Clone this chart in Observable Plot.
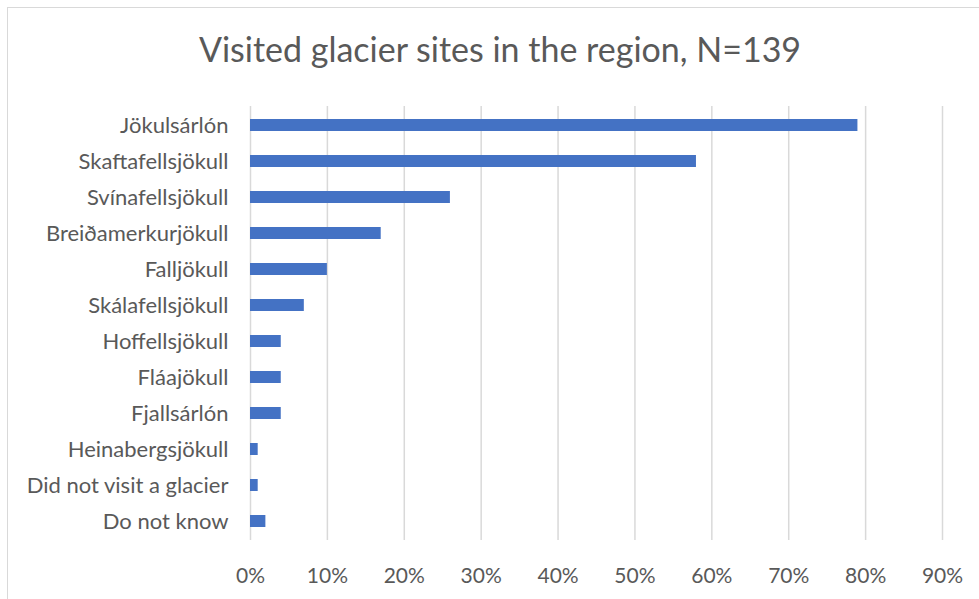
<!DOCTYPE html>
<html>
<head>
<meta charset="utf-8">
<script src="https://cdn.jsdelivr.net/npm/d3@7"></script>
<script src="https://cdn.jsdelivr.net/npm/@observablehq/plot@0.6"></script>
<style>
  html, body { margin: 0; padding: 0; background: #fff; }
  #wrap { position: relative; width: 979px; height: 599px; overflow: hidden; }
  #frame { position: absolute; left: 7px; top: 7px; width: 990px; height: 620px; border: 1px solid #d9d9d9; box-sizing: border-box; }
  #title { position: absolute; left: 0; top: 27px; width: 1000px; text-align: center; font-family: Lato, sans-serif; font-weight: 400; font-size: 34px; line-height: 44px; color: #595959; }
  #chart { position: absolute; left: 0; top: 0; }
</style>
</head>
<body>
<div id="wrap">
  <div id="frame"></div>
  <div id="title">Visited glacier sites in the region, N=139</div>
  <div id="chart"></div>
</div>
<script>
const categories = [
  "Jökulsárlón",
  "Skaftafellsjökull",
  "Svínafellsjökull",
  "Breiðamerkurjökull",
  "Falljökull",
  "Skálafellsjökull",
  "Hoffellsjökull",
  "Fláajökull",
  "Fjallsárlón",
  "Heinabergsjökull",
  "Did not visit a glacier",
  "Do not know"
];
const values = [79, 58, 26, 17, 10, 7, 4, 4, 4, 1, 1, 2];
const xTicks = [0, 10, 20, 30, 40, 50, 60, 70, 80, 90];

const data = categories.map((c, i) => ({category: c, value: values[i]}));

const chart = Plot.plot({
  width: 979,
  height: 599,
  marginTop: 106,
  marginBottom: 59,
  marginLeft: 250,
  marginRight: 37,
  style: {fontFamily: "Lato, sans-serif", fontSize: "22px", color: "#595959", background: "transparent"},
  x: {domain: [0, 90]},
  y: {domain: categories, paddingInner: 0.655, paddingOuter: 0.3275},
  marks: [
    Plot.gridX(xTicks, {stroke: "#d9d9d9", strokeOpacity: 1, strokeWidth: 1.5}),
    Plot.barX(data, {x: "value", y: "category", fill: "#4472C4"}),
    Plot.axisX(xTicks, {tickSize: 0, tickPadding: 28, tickFormat: d => d + "%", label: null, fontSize: 21}),
    Plot.axisY({tickSize: 0, tickPadding: 22, label: null, fontSize: 22})
  ]
});
document.getElementById("chart").appendChild(chart);
</script>
</body>
</html>
